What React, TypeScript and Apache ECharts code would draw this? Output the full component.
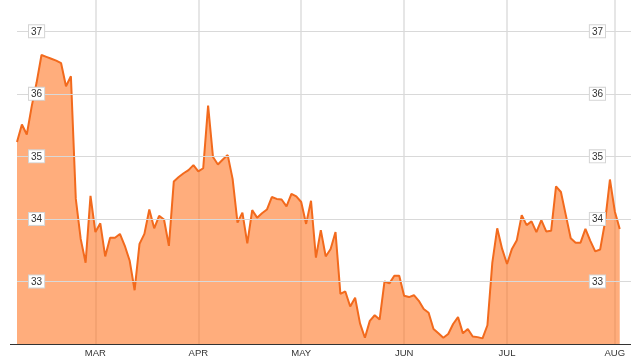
import React, { useEffect, useRef } from "react";
import * as echarts from "echarts";

// Daily closing prices (trading days, one per point)
const prices: number[] = [
  35.23, 35.51, 35.35, 35.8, 36.18, 36.62, 36.59, 36.56, 36.53, 36.49,
  36.12, 36.28, 34.32, 33.68, 33.3, 34.37, 33.79, 33.93, 33.4, 33.7,
  33.7, 33.76, 33.57, 33.33, 32.86, 33.6, 33.76, 34.15, 33.85, 34.05,
  33.99, 33.57, 34.6, 34.67, 34.73, 34.78, 34.86, 34.76, 34.81, 35.81,
  34.99, 34.87, 34.95, 35.02, 34.64, 33.94, 34.1, 33.61, 34.14, 34.02,
  34.09, 34.15, 34.35, 34.32, 34.31, 34.2, 34.4, 34.36, 34.27, 33.92,
  34.29, 33.38, 33.82, 33.4, 33.52, 33.79, 32.8, 32.84, 32.6, 32.74,
  32.33, 32.1, 32.37, 32.46, 32.39, 33.0, 32.97, 33.09, 33.09, 32.77,
  32.75, 32.78, 32.69, 32.56, 32.5, 32.24, 32.17, 32.1, 32.16, 32.32,
  32.43, 32.17, 32.24, 32.12, 32.11, 32.09, 32.3, 33.3, 33.85, 33.52,
  33.28, 33.52, 33.66, 34.06, 33.9, 33.96, 33.79, 33.98, 33.8, 33.81,
  34.52, 34.43, 34.06, 33.69, 33.62, 33.62, 33.84, 33.65, 33.48, 33.51,
  33.95, 34.63, 34.12, 33.84,
];

// First trading day index of each month and its label
const monthStartIndex: number[] = [16, 37, 58, 79, 100, 122];
const monthLabels: string[] = ["MAR", "APR", "MAY", "JUN", "JUL", "AUG"];

// Price tick labels
const yTicks: number[] = [33, 34, 35, 36, 37];

const FONT = "'Liberation Sans', Arial, sans-serif";

export default function App() {
  const ref = useRef<HTMLDivElement>(null);

  useEffect(() => {
    const chart = echarts.init(ref.current!, null, { renderer: "svg" });
    const yLabelStyle = {
      inside: true,
      customValues: yTicks,
      color: "#333",
      fontSize: 10,
      fontFamily: FONT,
      lineHeight: 10,
      backgroundColor: "#fff",
      borderColor: "#d4d4d4",
      borderWidth: 1,
      padding: [1, 2, 1, 2],
      formatter: (v: number) => String(v),
    };
    chart.setOption({
      animation: false,
      grid: { left: 17, right: 0, top: 0, bottom: 15, containLabel: false },
      xAxis: {
        type: "value",
        min: 0,
        max: 125.3,
        axisLine: { show: false },
        axisTick: { show: false, customValues: monthStartIndex },
        axisLabel: {
          customValues: monthStartIndex,
          margin: 3,
          color: "#333",
          fontSize: 9.5,
          fontFamily: FONT,
          formatter: (v: number) => {
            const i = monthStartIndex.indexOf(Math.round(v));
            return i >= 0 ? monthLabels[i] : "";
          },
        },
        splitLine: { show: true, lineStyle: { color: "#e6e6e6", width: 2 } },
      },
      yAxis: [
        {
          type: "value",
          position: "left",
          min: 32,
          max: 37.5,
          interval: 1,
          z: 10,
          axisLine: { show: false },
          axisTick: { show: false, customValues: yTicks },
          axisLabel: { ...yLabelStyle, margin: 12 },
          splitLine: { show: true, lineStyle: { color: "#d9d9d9", width: 1 } },
        },
        {
          type: "value",
          position: "right",
          min: 32,
          max: 37.5,
          interval: 1,
          z: 10,
          axisLine: { show: false },
          axisTick: { show: false, customValues: yTicks },
          axisLabel: { ...yLabelStyle, margin: 26 },
          splitLine: { show: false },
        },
      ],
      series: [
        {
          type: "line",
          data: prices.map((v, i) => [i, v]),
          symbol: "none",
          lineStyle: { color: "#f26a1d", width: 2 },
          itemStyle: { color: "#f26a1d" },
          areaStyle: { color: "#ff6a10", opacity: 0.55 },
          z: 3,
        },
      ],
      graphic: [
        {
          type: "line",
          shape: { x1: 10, y1: 344.5, x2: 631, y2: 344.5 },
          style: { stroke: "#333", lineWidth: 1 },
          z: 10,
        },
      ],
    });
    return () => chart.dispose();
  }, []);

  return (
    <div
      ref={ref}
      style={{ position: "fixed", left: 0, top: 0, width: 631, height: 359 }}
    />
  );
}
